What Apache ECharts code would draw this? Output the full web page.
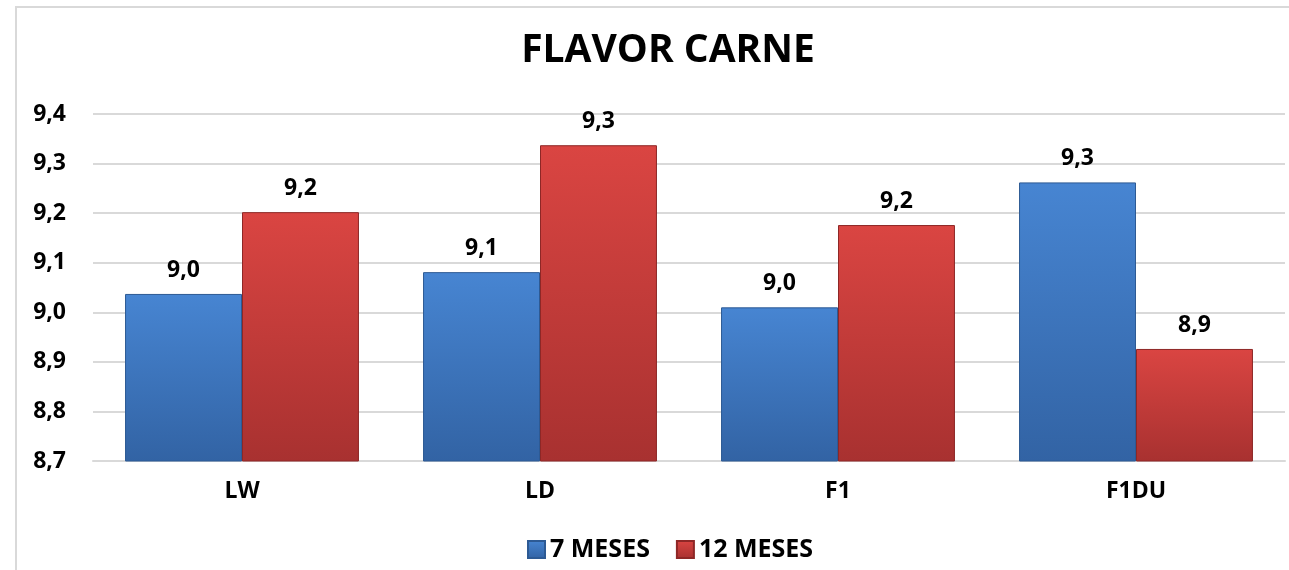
<!DOCTYPE html>
<html>
<head>
<meta charset="utf-8">
<script src="https://cdn.jsdelivr.net/npm/echarts@6/dist/echarts.min.js"></script>
<style>
  html, body { margin: 0; padding: 0; background: #fff; }
  #frame { position: absolute; left: 15px; top: 6px; width: 1290px; height: 580px;
    border-left: 2px solid #d9d9d9; border-top: 2px solid #d9d9d9; box-sizing: border-box; }
  #chart { position: absolute; left: 0; top: 0; width: 1289px; height: 570px; }
</style>
</head>
<body>
<div id="frame"></div>
<div id="chart"></div>
<script>
// datos
const categories = ['LW', 'LD', 'F1', 'F1DU'];
const meses7 = [9.037, 9.081, 9.010, 9.262];
const meses12 = [9.202, 9.337, 9.176, 8.926];
const seriesNames = ['7 MESES', '12 MESES'];

const FONT = '"Open Sans", sans-serif';
const TXT = 23;

function grad(top, bottom) {
  return {
    type: 'linear', x: 0, y: 0, x2: 0, y2: 1,
    colorStops: [
      { offset: 0, color: top },
      { offset: 1, color: bottom }
    ]
  };
}

const chart = echarts.init(document.getElementById('chart'));

const option = {
  animation: false,
  title: {
    text: 'FLAVOR CARNE',
    left: 663,
    textAlign: 'center',
    top: 26,
    textStyle: { fontFamily: FONT, fontSize: 39, fontWeight: 'bold', color: '#000' }
  },
  grid: { left: 93, right: 4, top: 114, bottom: 109, containLabel: false },
  legend: {
    bottom: 3,
    left: 522,
    icon: 'rect',
    itemWidth: 17,
    itemHeight: 17,
    itemGap: 26,
    textStyle: { fontFamily: FONT, fontSize: 25, fontWeight: 'bold', color: '#000' },
    data: seriesNames
  },
  xAxis: {
    type: 'category',
    data: categories,
    axisLine: { lineStyle: { color: '#d9d9d9', width: 2 } },
    axisTick: { show: false },
    axisLabel: { fontFamily: FONT, fontSize: TXT, fontWeight: 'bold', color: '#000', margin: 19 }
  },
  yAxis: {
    type: 'value',
    min: 8.7,
    max: 9.4,
    interval: 0.1,
    axisLine: { show: false },
    axisTick: { show: false },
    splitLine: { lineStyle: { color: '#d9d9d9', width: 2 } },
    axisLabel: {
      fontFamily: FONT, fontSize: TXT, fontWeight: 'bold', color: '#000', margin: 27,
      formatter: v => v.toFixed(1).replace('.', ',')
    }
  },
  series: [
    {
      name: seriesNames[0],
      type: 'bar',
      data: meses7,
      barGap: '0%',
      barCategoryGap: '21.5%',
      itemStyle: { color: grad('#4785d2', '#3263a4'), borderColor: '#2d5a94', borderWidth: 1 },
      label: {
        show: true, position: 'top', distance: 12,
        fontFamily: FONT, fontSize: TXT, fontWeight: 'bold', color: '#000',
        formatter: p => p.value.toFixed(1).replace('.', ',')
      }
    },
    {
      name: seriesNames[1],
      type: 'bar',
      data: meses12,
      barGap: '0%',
      barCategoryGap: '21.5%',
      itemStyle: { color: grad('#da4542', '#a83130'), borderColor: '#8e2726', borderWidth: 1 },
      label: {
        show: true, position: 'top', distance: 12,
        fontFamily: FONT, fontSize: TXT, fontWeight: 'bold', color: '#000',
        formatter: p => p.value.toFixed(1).replace('.', ',')
      }
    }
  ]
};

chart.setOption(option);
</script>
</body>
</html>
